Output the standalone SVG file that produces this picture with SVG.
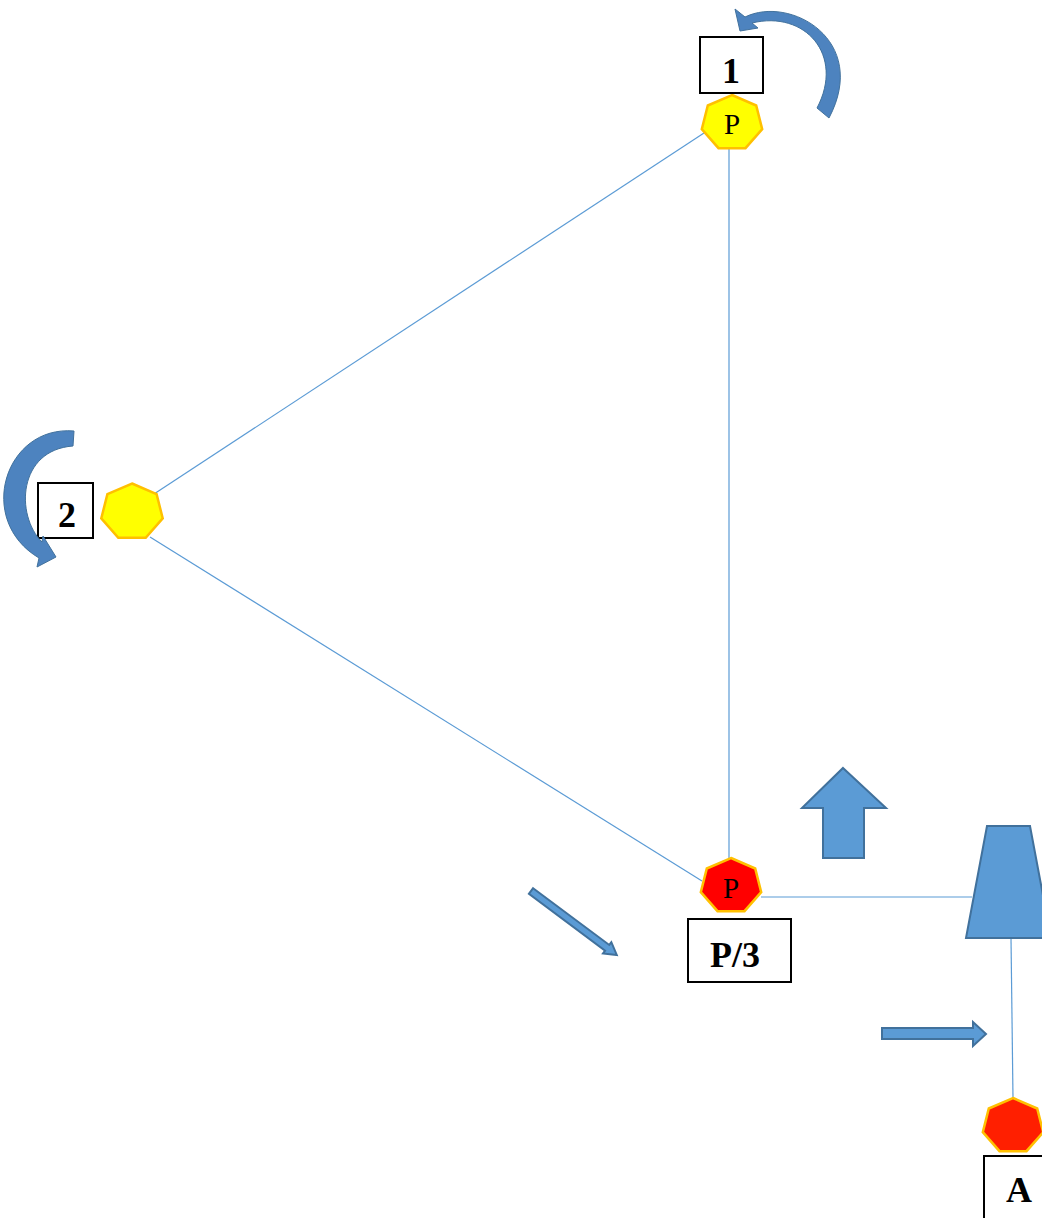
<svg xmlns="http://www.w3.org/2000/svg" width="1042" height="1218" viewBox="0 0 1042 1218">
<style>
.line{stroke:#5B9BD5;stroke-width:1.2;fill:none}
.hy{fill:#FFFF00;stroke:#FFC000;stroke-width:2.5}
.hr{fill:#FF0000;stroke:#FFC000;stroke-width:2.5}
.hr2{fill:#FF1F00;stroke:#FFC000;stroke-width:2.5}
.box{fill:#FFFFFF;stroke:#000000;stroke-width:2}
.lbl{font-family:"Liberation Serif","Times New Roman",serif;font-weight:bold;font-size:36px;fill:#000;text-anchor:middle}
.p{font-family:"Liberation Serif","Times New Roman",serif;font-size:29px;fill:#000;text-anchor:middle}
.blk{fill:#5B9BD5;stroke:#41719C;stroke-width:2}
.curve{fill:#4D83BF;stroke:#41719C;stroke-width:1}
</style>
<rect width="1042" height="1218" fill="#FFFFFF"/>
<g id="connectors">
<line class="line" x1="729" y1="148" x2="729" y2="858"/>
<line class="line" x1="704" y1="133" x2="154" y2="494"/>
<line class="line" x1="150" y1="537" x2="702" y2="881"/>
<line class="line" x1="761" y1="897" x2="972" y2="897"/>
<line class="line" x1="1011" y1="938" x2="1013" y2="1098"/>
</g>
<g id="node1">
<polygon class="hy" points="732,95 756.2,105.5 762.2,129.2 745.5,148.2 718.5,148.2 701.8,129.2 707.8,105.5"/>
<text class="p" x="732" y="134">P</text>
<rect class="box" x="700" y="37" width="63" height="56"/>
<text class="lbl" x="731" y="83">1</text>
</g>
<g id="rot1">
<path class="curve" d="M745,17 C790,-5 870,40 829,118 L817,108 C845,55 805,10 752,23 L758,28 L740,31 L735,9 Z"/>
</g>
<g id="node2">
<polygon class="hy" points="132,483.5 156.6,494.2 162.7,518.3 145.7,537.7 118.3,537.7 101.3,518.3 107.4,494.2"/>
<rect class="box" x="38" y="483" width="55" height="55"/>
<text class="lbl" x="67" y="527">2</text>
</g>
<g id="rot2">
<path class="curve" d="M74,431 C5,425 -25,520 39,558 L37,567 L56,557 L43,536 L42,542 C15,515 18,450 73,446 Z"/>
</g>
<g id="node3">
<polygon class="hr" points="731,858 755.2,868.5 761.2,892.2 744.5,911.2 717.5,911.2 700.8,892.2 706.8,868.5"/>
<text class="p" x="731" y="898">P</text>
<rect class="box" x="688" y="919" width="103" height="63"/>
<text class="lbl" x="735" y="967">P/3</text>
</g>
<g id="arrowUp">
<polygon class="blk" points="843,768 886,808 864,808 864,858 823,858 823,808 802,808"/>
</g>
<g id="arrowDiag">
<polygon class="blk" transform="translate(531,891) rotate(36.7)" points="0,-3.5 95,-3.5 95,-7 107,0 95,7 95,3.5 0,3.5"/>
</g>
<g id="support">
<polygon class="blk" points="987,826 1030,826 1051,938 966,938"/>
</g>
<g id="arrowRight">
<polygon class="blk" points="882,1028 973,1028 973,1022 986,1034 973,1046 973,1039 882,1039"/>
</g>
<g id="nodeA">
<polygon class="hr2" points="1013,1098 1037.2,1108.5 1043.2,1132.2 1026.5,1151.2 999.5,1151.2 982.8,1132.2 988.8,1108.5"/>
<rect class="box" x="984" y="1156" width="70" height="70"/>
<text class="lbl" x="1019" y="1202">A</text>
</g>
</svg>
